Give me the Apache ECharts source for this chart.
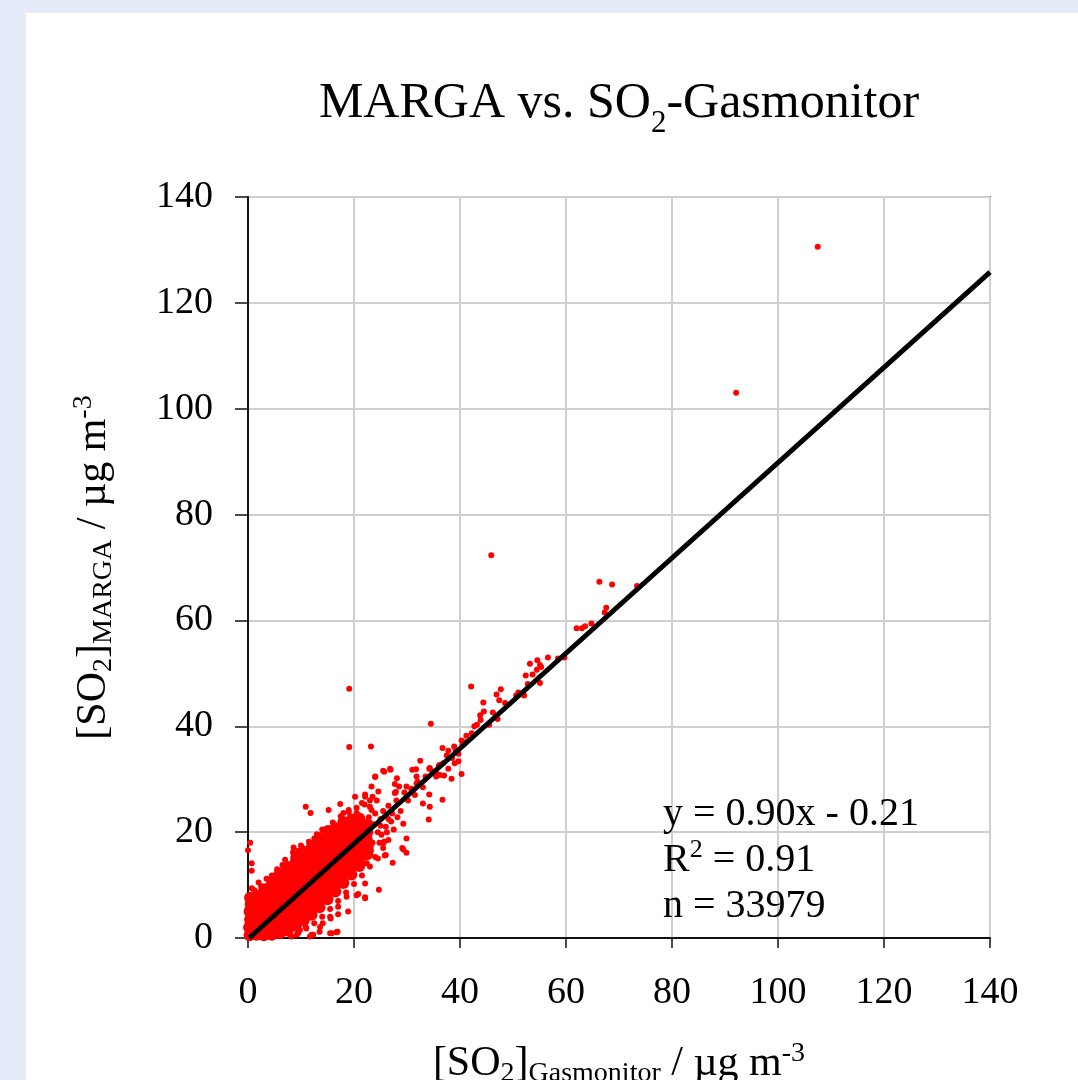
<!DOCTYPE html>
<html>
<head>
<meta charset="utf-8">
<script src="https://cdn.jsdelivr.net/npm/echarts/dist/echarts.min.js"></script>
<style>
html,body{margin:0;padding:0;background:#e6ebf9;width:1078px;height:1080px;overflow:hidden;}
#panel{position:absolute;left:26px;top:13px;width:1052px;height:1067px;background:#ffffff;overflow:hidden;}
#chart{position:absolute;left:0;top:0;width:1052px;height:1067px;}
</style>
</head>
<body>
<div id="panel"><div id="chart"></div></div>
<script>
// ---- data ----
var axisTicks = [0, 20, 40, 60, 80, 100, 120, 140];
var fitLine = [[0.23, 0], [140, 125.79]];
var fitText = ['y = 0.90x - 0.21', '0.91', '33979'];

// densely overlapping core of the cloud (drawn with bigger dots)
var densePoints = [
 [0.3,0.5],[0.2,2.0],[0.4,3.5],[0.3,5.0],[0.5,6.4],[0.4,7.6],
 [1.6,0.6],[1.5,2.1],[1.7,3.6],[1.5,5.1],[1.6,6.6],[1.8,8.0],
 [3.0,0.5],[3.1,2.0],[2.9,3.5],[3.0,5.0],[3.2,6.5],[3.0,8.0],[3.1,9.2],
 [4.5,0.6],[4.6,2.1],[4.4,3.6],[4.5,5.1],[4.7,6.6],[4.5,8.1],[4.4,9.6],[4.6,10.6],
 [6.0,0.9],[6.1,2.4],[5.9,3.9],[6.0,5.4],[6.2,6.9],[6.0,8.4],[5.9,9.9],[6.1,11.3],[6.0,12.2],
 [7.5,1.4],[7.6,2.9],[7.4,4.4],[7.5,5.9],[7.7,7.4],[7.5,8.9],[7.4,10.4],[7.6,11.9],[7.5,13.4],
 [9.0,2.3],[9.1,3.8],[8.9,5.3],[9.0,6.8],[9.2,8.3],[9.0,9.8],[8.9,11.3],[9.1,12.8],[9.0,14.3],[9.1,15.2],
 [10.5,3.3],[10.6,4.8],[10.4,6.3],[10.5,7.8],[10.7,9.3],[10.5,10.8],[10.4,12.3],[10.6,13.8],[10.5,15.3],[10.6,16.3],
 [12.0,4.4],[12.1,5.9],[11.9,7.4],[12.0,8.9],[12.2,10.4],[12.0,11.9],[11.9,13.4],[12.1,14.9],[12.0,16.4],[12.1,17.4],
 [13.5,5.8],[13.6,7.3],[13.4,8.8],[13.5,10.3],[13.7,11.8],[13.5,13.3],[13.4,14.8],[13.6,16.3],[13.5,17.8],[13.6,18.9],
 [15.0,7.3],[15.1,8.8],[14.9,10.3],[15.0,11.8],[15.2,13.3],[15.0,14.8],[14.9,16.3],[15.1,17.8],[15.0,19.3],[15.1,20.2],
 [16.5,8.8],[16.6,10.3],[16.4,11.8],[16.5,13.3],[16.7,14.8],[16.5,16.3],[16.4,17.8],[16.6,19.3],[16.5,20.8],
 [18.0,10.4],[18.1,11.9],[17.9,13.4],[18.0,14.9],[18.2,16.4],[18.0,17.9],[17.9,19.4],[18.1,20.9],[18.0,21.9],
 [19.5,12.0],[19.6,13.5],[19.4,15.0],[19.5,16.5],[19.7,18.0],[19.5,19.5],[19.4,21.0],[19.6,22.4],
 [21.0,13.6],[21.1,15.1],[20.9,16.6],[21.0,18.1],[21.2,19.6],[21.0,21.1],[21.0,22.6],
 [22.5,15.8],[22.6,17.2],[22.4,18.6],[22.5,20.0],[22.6,21.4]
];

// individually visible points
var scatterPoints = [
 [107.5,130.6],[92.1,103.0],[45.9,72.3],
 [66.3,67.3],[68.7,66.8],[73.4,66.5],[67.6,62.4],[67.3,61.5],[64.8,59.4],[63.6,58.9],[63.0,58.5],[62.0,58.5],
 [59.7,53.0],[58.5,52.8],[56.6,53.0],
 [54.6,52.5],[53.2,51.8],[55.1,51.6],[55.3,51.2],[54.5,50.7],[53.7,49.8],[52.4,49.6],[55.1,48.2],
 [52.8,48.0],[52.1,45.8],[51.0,46.4],[50.6,45.8],
 [47.7,47.0],[46.9,46.0],[47.4,44.9],[48.5,44.4],[42.1,47.5],
 [44.4,44.5],[44.5,42.8],[43.8,42.1],[43.9,41.2],[43.2,40.3],[42.7,40.0],
 [46.2,42.6],[47.1,41.4],[45.5,40.3],[34.5,40.5],
 [42.2,38.7],[41.2,38.2],[40.3,37.3],[38.9,36.2],[37.8,35.4],[36.7,35.9],[39.7,34.8],[39.7,33.4],
 [36.1,32.7],[34.2,32.0],[32.5,33.5],[31.7,31.9],
 [19.1,47.1],[19.1,36.1],[23.2,36.2],
 [31.0,31.8],[31.8,30.5],[34.3,32.1],[35.5,30.5],[36.2,30.8],[37.0,30.7],[38.4,30.1],[40.3,31.0],
 [34.2,27.1],[34.3,24.8],[34.1,22.4],[36.7,26.1],[33.0,25.4],
 [29.9,28.6],[31.8,29.2],[30.9,28.0],
 [26.8,32.0],[25.5,31.6],[24.0,30.5],[23.3,28.6],[23.5,26.7],[24.6,27.7],[28.1,30.2],[28.5,28.6],[27.7,27.4],
 [10.9,24.8],[11.8,23.6],
 [15.2,24.2],[17.4,25.3],[18.0,23.6],[19.0,24.2],[20.5,23.6],[21.5,25.5],[22.1,26.7],[23.0,24.8],
 [29.1,17.0],[29.9,16.1],[27.3,14.2],[25.8,15.6],[25.5,17.9],[25.2,19.5],[24.7,9.1],[22.1,7.5],[20.5,8.1],
 [18.6,7.8],[17.0,5.9],[15.5,4.0],[12.3,0.6],[11.7,0.3],[15.8,0.9],[16.7,1.1],[13.6,2.1],
 [0.4,18.0],[0.0,16.6],[0.7,14.1],[0.7,12.7],[0.7,9.4],[1.3,8.1],
 [20.2,26.7],[22.1,27.1],[24.0,30.4],[25.7,31.4],[26.9,31.8],[27.7,29.1],[27.9,27.6],[24.3,26.0],[23.3,24.2],
 [29.3,21.6],[29.9,18.8],[29.3,16.7],[26.0,15.7],[25.7,18.2],[24.0,15.3],[22.4,14.1],[22.1,10.3],[20.8,8.3],
 [22.1,7.7],[18.9,5.0],[17.0,4.5],[15.6,3.7],[15.5,0.9],[16.9,1.2],[13.5,1.2],[12.0,0.6],[10.9,2.1],[14.1,2.8],
 [13.6,6.5],[12.3,4.7],[9.8,1.5],[9.2,0.6],[8.2,0.3],
 [8.6,17.1],[7.0,13.6],[9.8,15.3],[5.3,10.3],[4.0,10.3],
 [2.0,10.5],[3.5,11.2],[5.5,13.0],[7.0,14.8],[8.5,16.2],[10.0,17.5],[12.5,18.8],[14.0,20.5],[16.0,21.8],
 [17.5,23.0],[19.0,23.8],[20.5,24.6],[22.0,25.2],[23.0,26.0],
 [8.0,0.5],[9.5,1.0],[11.0,1.8],[12.5,2.8],[14.0,4.0],[15.5,5.5],[17.0,7.0],[18.5,8.6],[20.0,10.2],
 [21.5,11.8],[23.0,13.5],[24.5,15.0],[25.5,17.0],[26.5,18.5],[27.5,20.5],[26.0,21.0],[25.0,22.5],[24.0,23.5],
 [23.5,18.0],[24.5,20.0],[25.5,24.0],[26.5,22.5],
 [26.5,25.0],[27.2,23.5],[28.0,26.0],[28.8,24.0],[29.5,27.5],[30.2,26.0],[30.8,28.2],[31.5,27.0],[32.0,29.5],
 [33.0,28.5],[33.5,30.5],[34.8,31.5],[35.5,31.2],[36.0,32.5],[36.8,33.0],[37.5,34.5],[38.5,34.0],[39.2,35.5],
 [40.5,36.5],[41.0,37.0],[39.0,33.0],[37.8,32.0],
 [21.8,19.0],[23.8,21.5],[22.8,22.8],[24.8,18.0],[23.2,16.5],[25.0,21.2],[26.2,20.0],[27.0,22.0],[28.2,22.8],
 [6.5,13.8],[9.5,16.5],[11.5,18.2],[13.0,19.6],[4.5,11.8],[2.5,9.8],[1.2,9.0]
];

// ---- chart ----
var FONT = 'Liberation Serif, Times New Roman, serif';
var rich = {
  n: {fontFamily: FONT, fontSize: 42, color: '#000', lineHeight: 48},
  s: {fontFamily: FONT, fontSize: 28, color: '#000', lineHeight: 24, verticalAlign: 'bottom'},
  p: {fontFamily: FONT, fontSize: 28, color: '#000', lineHeight: 24, verticalAlign: 'top'}
};
var chart = echarts.init(document.getElementById('chart'), null, {renderer: 'canvas', width: 1052, height: 1067});

function axis(nameText, nameGap, tickLen) {
  return {
    type: 'value', min: axisTicks[0], max: axisTicks[axisTicks.length - 1],
    interval: axisTicks[1] - axisTicks[0],
    name: nameText, nameLocation: 'middle', nameGap: nameGap,
    nameTextStyle: {rich: rich},
    axisLine: {show: true, onZero: false, lineStyle: {color: '#111', width: 2}},
    axisTick: {show: true, inside: false, length: tickLen, lineStyle: {color: '#111', width: 1.5}},
    axisLabel: {fontFamily: FONT, fontSize: 38, color: '#000', margin: 0},
    splitLine: {show: true, lineStyle: {color: '#cfcfcf', width: 2}}
  };
}
var xA = axis('{n|[SO}{s|2}{n|]}{s|Gasmonitor}{n| / µg m}{p|-3}', 102, 10);
xA.axisLabel.margin = 36;
var yA = axis('{n|[SO}{s|2}{n|]}{s|MARGA}{n| / µg m}{p|-3}', 130, 13);
yA.axisLabel.margin = 35;

chart.setOption({
  animation: false,
  backgroundColor: '#ffffff',
  grid: {left: 222, top: 184, right: 88, bottom: 142, show: true, borderColor: '#555', borderWidth: 2,
         containLabel: false, outerBoundsMode: 'none'},
  xAxis: xA,
  yAxis: yA,
  graphic: [
    {type: 'text', x: 593, y: 66, z: 100,
     style: {text: '{a|MARGA vs. SO}{b|2}{a|-Gasmonitor}', align: 'center', verticalAlign: 'top',
       rich: {a: {fontFamily: FONT, fontSize: 50, fill: '#000', lineHeight: 58, verticalAlign: 'top'},
              b: {fontFamily: FONT, fontSize: 31, fill: '#000', lineHeight: 60, verticalAlign: 'bottom'}}}},
    {type: 'text', x: 637, y: 778, z: 100,
     style: {text: '{n|' + fitText[0] + '}\n{n|R}{p|2}{n| = ' + fitText[1] + '}\n{n|n = ' + fitText[2] + '}',
       rich: {n: {fontFamily: FONT, fontSize: 40, fill: '#000', lineHeight: 46},
              p: {fontFamily: FONT, fontSize: 26, fill: '#000', lineHeight: 28, verticalAlign: 'top'}}}}
  ],
  series: [
    {type: 'scatter', data: densePoints, symbolSize: 12, itemStyle: {color: '#ff0000', opacity: 1}, clip: false, z: 2},
    {type: 'scatter', data: scatterPoints, symbolSize: 6, itemStyle: {color: '#ff0000', opacity: 1}, clip: false, z: 2},
    {type: 'line', data: fitLine, showSymbol: false, symbol: 'none', lineStyle: {color: '#000', width: 5}, z: 3}
  ]
});
</script>
</body>
</html>
